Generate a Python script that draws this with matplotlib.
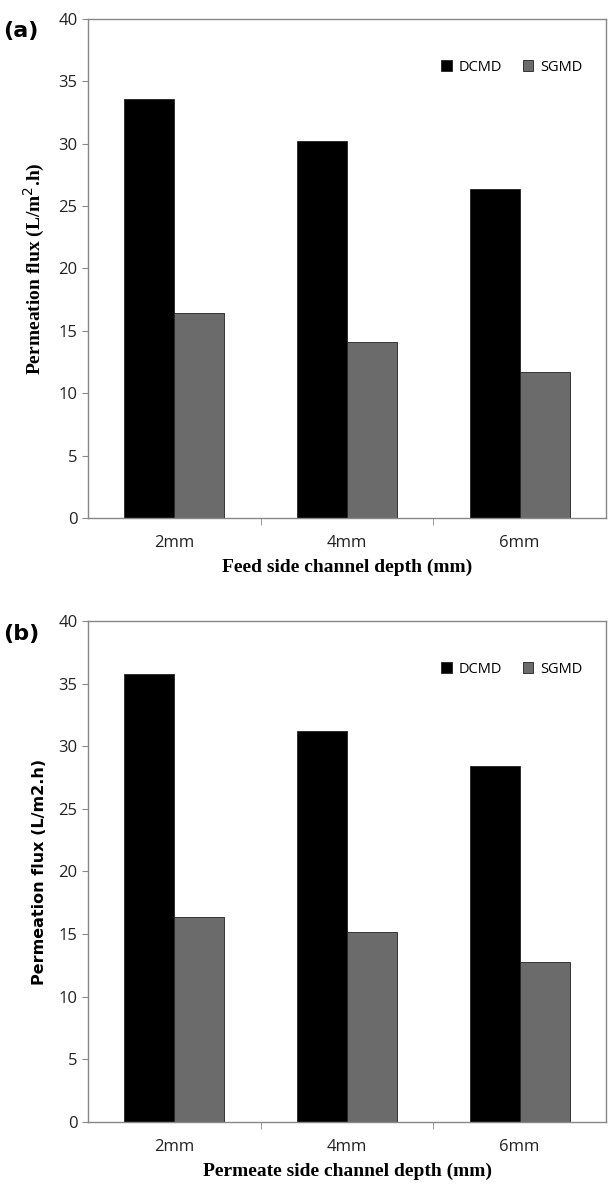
import numpy as np
import matplotlib.pyplot as plt

depths = ["2mm", "4mm", "6mm"]
feed_dcmd = [33.6, 30.2, 26.4]
feed_sgmd = [16.4, 14.1, 11.7]
perm_dcmd = [35.8, 31.2, 28.4]
perm_sgmd = [16.4, 15.2, 12.8]

tick_font = "Open Sans"
serif = "Liberation Serif"


def panel(ax, dcmd, sgmd, xlabel, ylabel, ylabel_font, tag):
    x = np.arange(len(depths))
    w = 0.29
    ax.bar(x - w / 2, dcmd, w, color="black", edgecolor="#222222", linewidth=0.6, label="DCMD")
    ax.bar(x + w / 2, sgmd, w, color="#6b6b6b", edgecolor="#222222", linewidth=0.6, label="SGMD")
    ax.set_xlim(-0.5, 2.5)
    ax.set_ylim(0, 40)
    ax.set_yticks(range(0, 41, 5))
    ax.set_xticks(x)
    ax.set_xticklabels(depths, fontfamily=tick_font, fontsize=12)
    ax.set_xticks([0.5, 1.5], minor=True)
    ax.tick_params(axis="x", which="major", length=0, pad=12, labelcolor="#222222")
    ax.tick_params(axis="x", which="minor", length=5, direction="out", color="#888888")
    ax.tick_params(axis="y", length=4, direction="out", color="#888888", labelsize=12,
                   labelcolor="#222222")
    for lab in ax.get_yticklabels():
        lab.set_fontfamily(tick_font)
    for s in ax.spines.values():
        s.set_color("#888888")
        s.set_linewidth(1.0)
    ax.set_xlabel(xlabel, fontfamily=serif, fontweight="bold", fontsize=14, labelpad=6)
    ax.set_ylabel(ylabel, fontfamily=ylabel_font, fontweight="bold",
                  fontsize=14 if ylabel_font == serif else 11.5, labelpad=8)
    ax.legend(loc="upper right", ncol=2, frameon=False, prop={"family": tick_font, "size": 10.5},
              handlelength=0.7, handleheight=0.7, columnspacing=1.4, handletextpad=0.5,
              bbox_to_anchor=(0.98, 0.945))
    ax.text(-0.163, 0.975, tag, transform=ax.transAxes, fontsize=16, fontweight="bold",
            fontfamily="DejaVu Sans", ha="left", va="center")


fig = plt.figure(figsize=(6.13, 11.84), dpi=100)
ax1 = fig.add_axes([0.1436, 0.5625, 0.845, 0.4215])
ax2 = fig.add_axes([0.1436, 0.0524, 0.845, 0.4231])

panel(ax1, feed_dcmd, feed_sgmd, "Feed side channel depth (mm)",
      "Permeation flux (L/m$^2$.h)", serif, "(a)")
panel(ax2, perm_dcmd, perm_sgmd, "Permeate side channel depth (mm)",
      "Permeation flux (L/m2.h)", "DejaVu Sans", "(b)")

fig.savefig("out.png", dpi=100)
